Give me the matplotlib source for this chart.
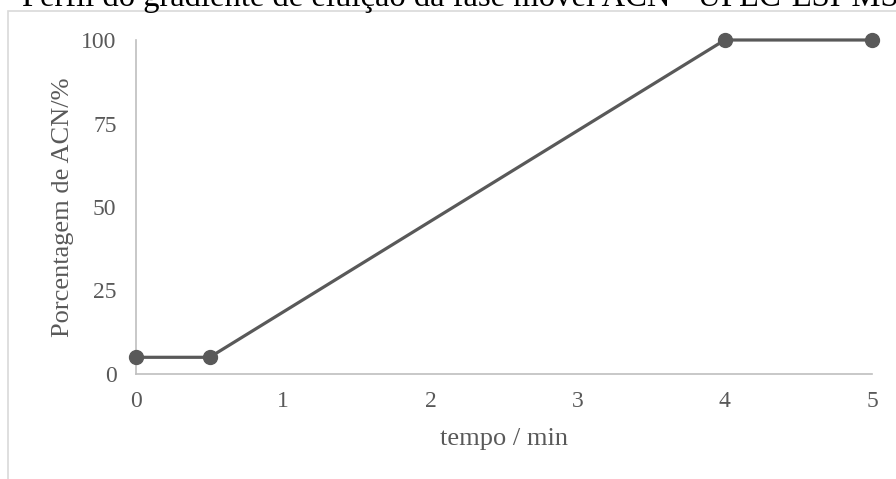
import matplotlib
matplotlib.use("Agg")
import matplotlib.pyplot as plt
from matplotlib.patches import Rectangle

plt.rcParams["font.family"] = ["Liberation Serif", "DejaVu Serif"]

# Gradient profile (tempo / min vs % ACN)
tempo = [0, 0.5, 4, 5]
acn = [5, 5, 100, 100]
xticks = [0, 1, 2, 3, 4, 5]
yticks = [0, 25, 50, 75, 100]

W, H = 896, 479
fig = plt.figure(figsize=(W / 100, H / 100), dpi=100)

# chart area border (cropped on the right and bottom)
fig.patches.append(Rectangle((8 / W, -0.1), 1.2, 1 - 11 / H + 0.1, transform=fig.transFigure,
                             fill=False, edgecolor="#d9d9d9", linewidth=1.2))

fig.text(22 / W, 1 - 6 / H, "Perfil do gradiente de eluição da fase móvel ACN - UPLC-ESI-MS",
         fontsize=23.5, color="black", va="baseline", ha="left")

ax = fig.add_axes([136 / W, (H - 374) / H, 736 / W, 334 / H])
ax.plot(tempo, acn, color="#595959", linewidth=2.3, marker="o", markersize=10, clip_on=False, zorder=3)
ax.set_xlim(0, 5)
ax.set_ylim(0, 100)
ax.set_xticks(xticks)
ax.set_yticks(yticks)
for s in ["top", "right"]:
    ax.spines[s].set_visible(False)
for s in ["left", "bottom"]:
    ax.spines[s].set_color("#bfbfbf")
    ax.spines[s].set_linewidth(1.2)
ax.tick_params(length=0, labelsize=17, labelcolor="#595959")
ax.tick_params(axis="y", pad=14)
ax.tick_params(axis="x", pad=12)
ax.set_xlabel("tempo / min", fontsize=19, color="#595959", labelpad=12)
ax.set_ylabel("Porcentagem de ACN/%", fontsize=19, color="#595959", labelpad=5)

fig.savefig("out.png", dpi=100)
